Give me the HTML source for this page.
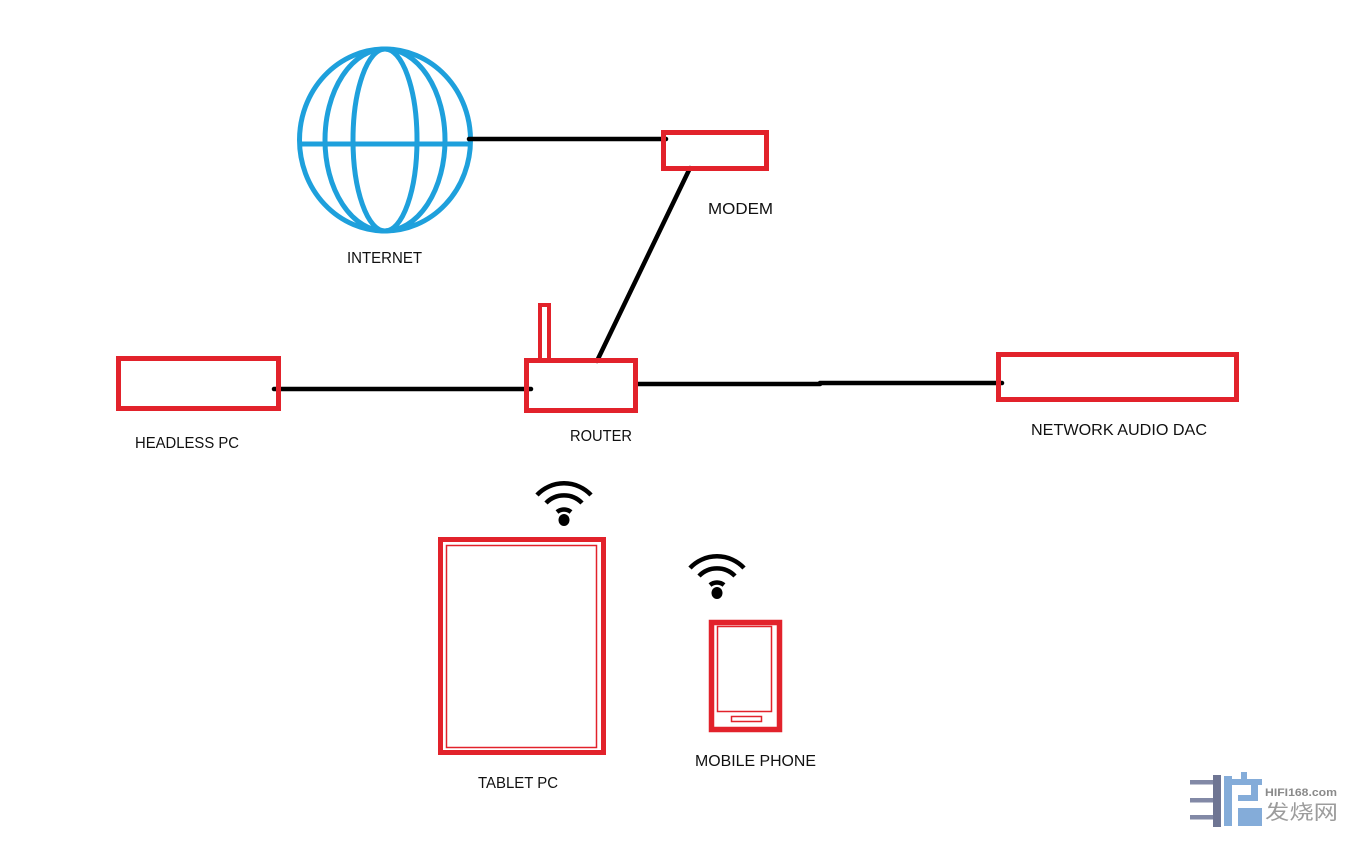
<!DOCTYPE html>
<html><head><meta charset="utf-8"><style>
html,body{margin:0;padding:0;background:#fff;width:1366px;height:841px;overflow:hidden}
svg{display:block}
text{font-family:"Liberation Sans","Noto Sans CJK SC",sans-serif;fill:#111;font-size:16px}
</style></head><body>
<svg width="1366" height="841" viewBox="0 0 1366 841" xmlns="http://www.w3.org/2000/svg">
<rect width="1366" height="841" fill="#fff"/>
<!-- Globe -->
<g fill="none" stroke="#1ea0dc" stroke-width="5">
<ellipse cx="385" cy="140" rx="85.5" ry="91"/>
<ellipse cx="385" cy="140" rx="60" ry="91"/>
<ellipse cx="385" cy="140" rx="32" ry="91"/>
<line x1="298" y1="144" x2="472" y2="144"/>
</g>
<!-- Connectors -->
<g stroke="#000" stroke-width="4.5" stroke-linecap="round" fill="none">
<line x1="469" y1="139" x2="666" y2="139"/>
<line x1="690" y1="168" x2="597" y2="361"/>
<line x1="274" y1="389" x2="531" y2="389"/>
<line x1="638" y1="384" x2="820" y2="384"/>
<line x1="820" y1="383" x2="1002" y2="383"/>
</g>
<!-- Red boxes -->
<g fill="none" stroke="#e2222b">
<rect x="663.5" y="132.5" width="103" height="36" stroke-width="5"/>
<rect x="118.5" y="358.5" width="160" height="50" stroke-width="5"/>
<rect x="540" y="305" width="9" height="55" stroke-width="4"/>
<rect x="526.5" y="360.5" width="109" height="50" stroke-width="5"/>
<rect x="998.5" y="354.5" width="238" height="45" stroke-width="5"/>
<rect x="440.5" y="539.5" width="163" height="213" stroke-width="5"/>
<rect x="446.5" y="545.5" width="150" height="202" stroke-width="1.5"/>
<rect x="711.5" y="622.5" width="68" height="107" stroke-width="5.5"/>
<rect x="717.5" y="626.5" width="54" height="85" stroke-width="1.5"/>
<rect x="731.5" y="716.5" width="30" height="5" stroke-width="1.5"/>
</g>
<!-- Wifi icons -->
<g fill="none" stroke="#000" stroke-width="4.5">
<path d="M537,495 A37,37 0 0 1 591,495"/>
<path d="M546,503 A25,25 0 0 1 582,503"/>
<path d="M557,512 A11,11 0 0 1 571,512"/>
</g>
<ellipse cx="564" cy="520" rx="5.5" ry="6" fill="#000"/>
<g transform="translate(153,73)">
<g fill="none" stroke="#000" stroke-width="4.5">
<path d="M537,495 A37,37 0 0 1 591,495"/>
<path d="M546,503 A25,25 0 0 1 582,503"/>
<path d="M557,512 A11,11 0 0 1 571,512"/>
</g>
<ellipse cx="564" cy="520" rx="5.5" ry="6" fill="#000"/>
</g>
<!-- Labels -->
<text x="347" y="263" textLength="75" lengthAdjust="spacingAndGlyphs">INTERNET</text>
<text x="708" y="214" textLength="65" lengthAdjust="spacingAndGlyphs">MODEM</text>
<text x="135" y="448" textLength="104" lengthAdjust="spacingAndGlyphs">HEADLESS PC</text>
<text x="570" y="441" textLength="62" lengthAdjust="spacingAndGlyphs">ROUTER</text>
<text x="1031" y="435" textLength="176" lengthAdjust="spacingAndGlyphs">NETWORK AUDIO DAC</text>
<text x="478" y="788" textLength="80" lengthAdjust="spacingAndGlyphs">TABLET PC</text>
<text x="695" y="766" textLength="121" lengthAdjust="spacingAndGlyphs">MOBILE PHONE</text>
<!-- Logo -->
<g>
<rect x="1190" y="780" width="23" height="4.5" fill="#8289a6"/>
<rect x="1190" y="798" width="23" height="4.5" fill="#8289a6"/>
<rect x="1190" y="815" width="23" height="4.5" fill="#8289a6"/>
<rect x="1213" y="775" width="8" height="52" fill="#6e7593"/>
<g fill="#84acd9">
<rect x="1224" y="776" width="8" height="50"/>
<rect x="1224" y="779" width="38" height="6"/>
<rect x="1241" y="772" width="6" height="8"/>
<rect x="1251" y="785" width="7" height="15"/>
<rect x="1238" y="795" width="20" height="6"/>
<rect x="1238" y="808" width="24" height="18"/>
</g>
<text x="1265" y="796" textLength="72" lengthAdjust="spacingAndGlyphs" style="font-size:11px;font-weight:bold;fill:#8a8a8a">HIFI168.com</text>
<text x="1265" y="819" textLength="73" lengthAdjust="spacingAndGlyphs" style="font-size:20px;fill:#9c9c9c">发烧网</text>
</g>
</svg>
</body></html>
